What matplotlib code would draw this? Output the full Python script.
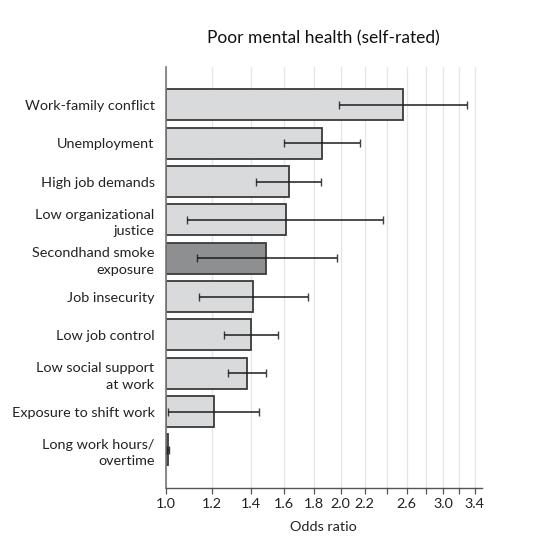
import matplotlib
matplotlib.use('Agg')
import matplotlib.pyplot as plt
from matplotlib.ticker import FixedLocator, FixedFormatter, NullLocator
import numpy as np

plt.rcParams['font.family'] = ['Lato', 'DejaVu Sans']

# data (odds ratios with 95% CI)
labels = ['Work-family conflict', 'Unemployment', 'High job demands',
          'Low organizational\njustice', 'Secondhand smoke\nexposure',
          'Job insecurity', 'Low job control', 'Low social support\nat work',
          'Exposure to shift work', 'Long work hours/\novertime']
odds = [2.56, 1.86, 1.63, 1.61, 1.49, 1.415, 1.40, 1.38, 1.21, 1.01]
ci_low = [1.99, 1.60, 1.43, 1.09, 1.13, 1.14, 1.26, 1.28, 1.01, 1.005]
ci_high = [3.30, 2.16, 1.85, 2.37, 1.97, 1.76, 1.56, 1.49, 1.45, 1.013]
highlight = 'Secondhand smoke\nexposure'

tick_vals = [1.0, 1.2, 1.4, 1.6, 1.8, 2.0, 2.2, 2.4, 2.6, 2.8, 3.0, 3.2, 3.4]
tick_text = ['1.0', '1.2', '1.4', '1.6', '1.8', '2.0', '2.2', '', '2.6', '', '3.0', '', '3.4']

fig = plt.figure(figsize=(5.34, 5.48), dpi=100)
ax = fig.add_axes([0.3103, 0.109, 0.592, 0.7694])

y = np.arange(len(labels))
colors = ['#8e8f90' if l == highlight else '#d9dadb' for l in labels]
odds = np.array(odds)
ax.barh(y, odds - 1.0, left=1.0, height=0.81, color=colors,
        edgecolor='#3a3a3a', linewidth=1.3, zorder=2)

err = [odds - np.array(ci_low), np.array(ci_high) - odds]
ax.errorbar(odds, y, xerr=err, fmt='none', ecolor='#1e1e1e', elinewidth=1.3,
            capsize=3, capthick=1.0, alpha=0.85, zorder=3)

ax.set_xscale('log')
ax.set_xlim(1.0, 3.5)
ax.set_ylim(10, -1)
ax.xaxis.set_major_locator(FixedLocator(tick_vals))
ax.xaxis.set_major_formatter(FixedFormatter(tick_text))
ax.xaxis.set_minor_locator(NullLocator())
ax.set_yticks(y)
ax.set_yticklabels(labels, fontsize=10.4, color='#222222', linespacing=1.45)
ax.tick_params(axis='y', length=0, pad=8)
ax.tick_params(axis='x', length=4, width=0.9, color='#555555', labelsize=10.4,
               labelcolor='#222222', pad=3)

ax.grid(axis='x', color='#e6e6e6', linewidth=1.0, zorder=0)
ax.set_axisbelow(True)
for s in ['top', 'right']:
    ax.spines[s].set_visible(False)
ax.spines['left'].set_color('#777777')
ax.spines['left'].set_linewidth(1.2)
ax.spines['bottom'].set_color('#555555')
ax.spines['bottom'].set_linewidth(1.0)

ax.set_xlabel('Odds ratio', fontsize=10.4, color='#222222', labelpad=8)
ax.set_title('Poor mental health (self-rated)', fontsize=12.5, color='#111111', pad=17)

fig.savefig('out.png', dpi=100)
